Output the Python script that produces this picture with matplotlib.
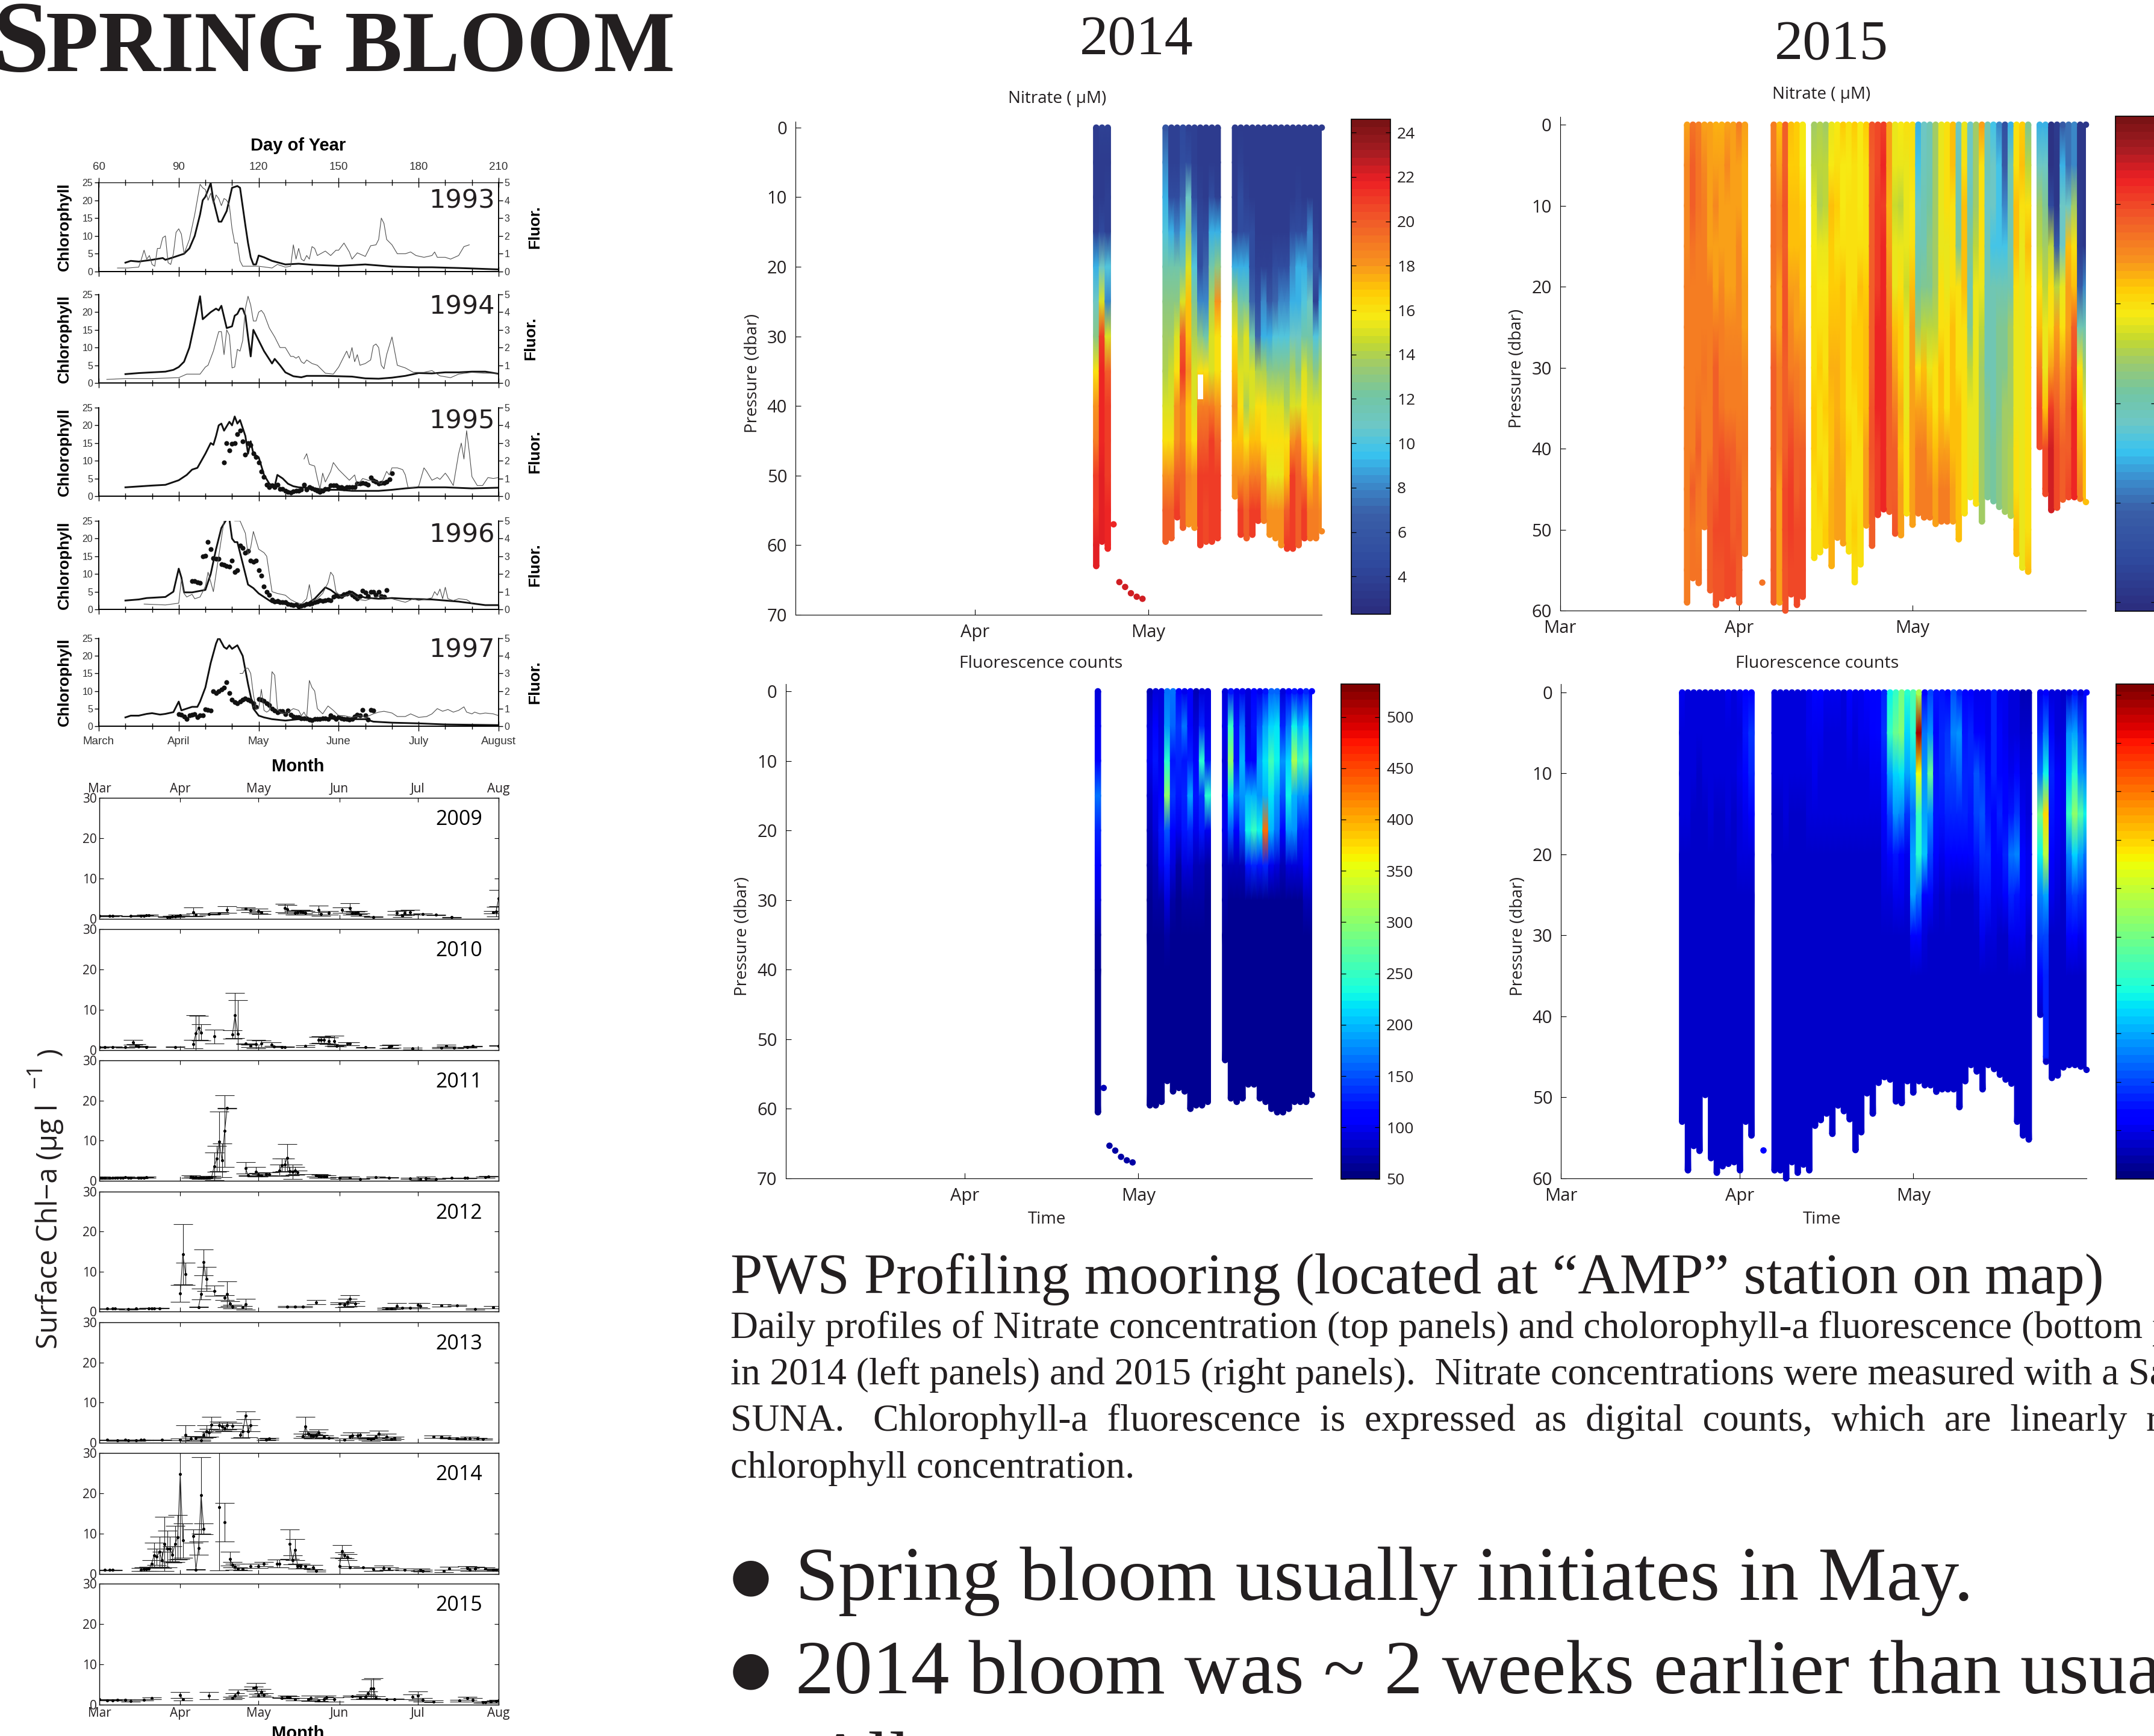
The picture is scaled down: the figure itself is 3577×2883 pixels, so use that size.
import numpy as np
import matplotlib
matplotlib.use('Agg')
import matplotlib.pyplot as plt
from matplotlib.colors import LinearSegmentedColormap, Normalize
from matplotlib.cm import ScalarMappable

W, H = 3577, 2883

# ---- historic panels: (day of year, value)
y93_chl = [(70,2.5),(72,3),(75,2.8),(80,3.3),(84,3.8),(85,3.3),(88,4),(92,5),(94,6.5),(96,10),(98,16),(99,20),(100,21),(102,24.8),(103,20),(105,14),(106,14),(108,17),(110,23.5),(112,24),(113,23.5),(115,13),(116,8),(117,4),(118,2),(119,2),(120,4.5),(122,4),(125,3),(130,2),(135,2.2),(140,1.9),(150,1.6),(160,2),(170,1.4),(180,1.2),(185,1.2),(195,1),(210,0.6)]
y93_flu = [(67,.2),(71,.2),(75,.25),(76,.7),(77,1.2),(78,.7),(79,.9),(80,.4),(81,.3),(82,1.3),(83,1.3),(84,1.9),(85,2),(86,.5),(87,.4),(88,1),(89,2.2),(90,2.4),(91,2.1),(92,1),(94,1.8),(96,3.2),(98,4.9),(99,4.7),(100,4.6),(101,4),(102,4.4),(103,3.8),(104,4.3),(105,4.1),(106,3.7),(107,4.1),(108,4),(109,3.7),(110,2.4),(111,1.6),(112,1.6),(113,.6),(114,.3),(116,.3),(120,.3),(125,.2),(127,.4),(130,.25),(132,.3),(133,1.5),(134,.7),(135,1.3),(136,.7),(137,.6),(138,.9),(139,.7),(140,1.4),(141,1.3),(142,.9),(145,1.15),(147,.9),(149,1.2),(150,1.2),(152,1.6),(154,1.1),(155,.7),(157,1.05),(160,.85),(162,1.45),(164,1.5),(165,1.8),(166,3),(167,2.7),(168,1.8),(170,1.5),(172,1),(175,1),(177,1.1),(179,.9),(182,.8),(185,.9),(186,1.1),(187,.8),(190,.8),(192,.7),(195,.9),(197,1.4),(199,1.5)]
y94_chl = [(70,2.5),(75,2.8),(85,3.2),(88,3.7),(90,4.5),(92,6),(94,10),(96,17),(98,24.5),(99,18),(102,20),(104,21),(105,20.5),(106,21.8),(108,15.5),(110,16),(111,19),(112,19.5),(113,21),(114,21),(115,19),(116,13),(117,7.5),(118,15),(120,12),(122,9),(125,5.5),(126,6.8),(128,5),(130,3),(133,1.9),(136,1.6),(138,2),(145,2),(150,1.9),(155,1.8),(160,1.3),(165,1.2),(170,1.5),(175,2),(180,2.8),(185,2.7),(190,3),(195,3),(200,3.2),(205,3.2),(210,2.6)]
y94_flu = [(63,.2),(70,.25),(80,.25),(90,.3),(93,.5),(95,.5),(98,.5),(100,.9),(101,1),(103,1.8),(105,2.9),(106,2.9),(107,1.6),(108,3),(109,2.7),(110,.85),(111,.9),(112,1.9),(113,1.8),(114,2.4),(115,4.2),(116,4.9),(117,4.4),(118,3.5),(119,3.5),(120,4),(121,4.1),(122,3.9),(124,3.1),(126,2.6),(128,2),(130,2),(132,1.5),(133,1.5),(134,1.4),(135,1.5),(136,1.2),(137,1.1),(138,1.3),(140,1.1),(142,1),(145,.55),(148,.5),(150,.9),(152,1.5),(153,1.8),(154,1.4),(155,2),(156,1.2),(157,1.6),(158,1),(160,1.1),(162,1.3),(163,2.1),(164,2.2),(165,2),(166,1),(167,.8),(168,1.6),(170,2.6),(171,1.8),(172,1),(175,.85),(178,.6),(182,.6),(185,.7),(188,.4),(192,.3),(195,.5),(200,.6),(205,.55),(210,.55)]
y95_chl = [(70,2.5),(80,3),(85,3.2),(90,4.5),(93,6),(95,7.5),(97,8),(100,12),(102,15),(103,14.5),(104,17),(105,20),(106,20.5),(107,18.5),(109,21),(110,20),(111,22.5),(112,20.5),(113,21.5),(115,17),(116,12),(117,15.5),(118,12),(120,11),(122,6),(124,3.5),(126,2.8),(127,6),(129,5),(131,3.5),(133,2.8),(135,2.5),(140,2.3),(145,1.8),(150,1.8),(155,1.5),(160,1.5),(165,1.5),(170,1.8),(175,2.2),(180,2.5),(190,2.5),(200,2.2),(210,2.4)]
y95_flu = [(137,2.1),(138,2.4),(139,1.8),(141,1.7),(142,1),(143,.4),(144,1.3),(145,.8),(147,1.4),(148,1.9),(150,1.5),(152,1.2),(154,.9),(156,1.2),(157,.6),(159,1),(161,.9),(164,.85),(166,.7),(168,1.4),(169,1.2),(170,1.6),(172,1.6),(174,1.5),(175,1.2),(176,.5),(178,.5),(180,.55),(182,1.6),(183,1.4),(185,.9),(187,1.05),(188,.95),(190,1.3),(191,1.1),(193,.6),(195,2.4),(196,3),(197,2.1),(198,3.7),(199,2.5),(200,1.1),(202,.6),(204,.6),(206,1.05),(208,1),(210,1.05)]
y95_dot = [(107,9.5),(108,15),(109,13),(110,14.8),(111,15),(112,17.5),(113,18.5),(114,15.5),(115,11.8),(116,15),(117,14.5),(118,12),(119,11),(120,9.5),(121,7),(122,5.5),(123,3.2),(124,2.5),(125,3),(126,2.5),(127,3.2),(128,2),(129,2),(130,1.5),(131,1.2),(132,1),(133,1.3),(134,1.5),(135,1.6),(136,1.8),(137,3.3),(138,1.8),(139,2.5),(140,2.2),(141,1.8),(142,1.5),(143,1.2),(144,1.5),(145,2),(146,2),(147,3),(148,3),(149,3),(150,2.5),(151,2.5),(152,2.2),(153,2.5),(154,2.5),(155,2.5),(156,2.5),(157,3.5),(158,3.5),(159,3.7),(160,3.5),(161,3.3),(162,5.3),(163,4.5),(164,4),(165,3.5),(166,3.7),(167,3.7),(168,4),(169,4.8),(170,6.5)]
y96_chl = [(70,2.5),(75,2.8),(78,3.2),(85,3.5),(88,5),(90,11.5),(91,9),(92,4.8),(95,4.8),(100,5.5),(102,10),(104,17),(106,23),(108,25.5),(109,25.5),(110,20),(111,19),(112,19),(113,16),(115,10),(116,7),(118,6),(120,4.5),(123,3),(125,2),(130,1.5),(135,0.9),(138,1.5),(141,3),(145,6.2),(147,5.5),(150,3.8),(155,5),(157,4),(160,3.3),(165,3),(170,3.2),(175,3),(185,2.8),(195,2.2),(205,1.2),(210,1.2)]
y96_flu = [(77,.3),(85,.25),(90,.35),(91,1.7),(92,.9),(93,.7),(95,.85),(96,.6),(98,.7),(100,1.3),(101,2.1),(103,1),(105,3),(107,5),(109,5.4),(111,5),(113,5),(115,4.3),(116,3.1),(117,3.5),(118,4.4),(120,3.4),(122,3.2),(123,3),(125,1),(127,.9),(130,.8),(132,.55),(134,.4),(136,.3),(138,.6),(139,1.4),(140,.5),(142,.6),(144,.9),(146,1.5),(147,2.1),(148,1.9),(149,1),(151,.7),(153,.8),(155,.9),(158,.55),(160,.5),(162,.6),(165,.75),(170,.6),(175,.4),(178,.6),(180,.5),(185,.65),(186,1),(187,.8),(188,1.15),(189,.6),(190,1.25),(191,.6),(193,.5),(195,.6),(198,.55),(200,.35)]
y96_dot = [(95,8),(96,8),(97,7.7),(98,7.5),(99,15),(100,15.2),(101,19),(102,17),(103,14.5),(104,14.3),(105,14.3),(106,12.7),(107,12.5),(108,12.3),(109,12),(110,13.7),(111,10.5),(112,11),(113,18),(114,17.3),(115,16),(116,16.5),(117,13.7),(118,13.5),(119,13.7),(120,11),(121,9.5),(122,6.5),(123,5),(124,4),(125,2.8),(126,2.2),(127,2.3),(128,2),(129,2),(130,2),(131,1.5),(132,1.3),(133,1.2),(134,1.3),(135,.8),(136,1),(137,1.2),(138,1.5),(139,1.6),(140,1.7),(141,2),(142,2.2),(143,2.5),(144,2.3),(145,2.5),(146,2.7),(147,2.6),(148,3.5),(149,3.9),(150,3.8),(151,3.7),(152,4.2),(153,4.5),(154,4.8),(155,4),(156,3.5),(157,3),(158,3.7),(159,5.3),(160,4.7),(161,3.7),(162,5),(163,5),(164,4),(165,5),(166,3.7),(167,3.5),(168,5.5)]
y97_chl = [(70,2.5),(72,3),(75,3),(78,3.5),(80,3.7),(83,3.3),(85,3.5),(88,4),(90,7),(91,4.5),(93,5),(95,5.5),(97,5.5),(98,7),(100,11),(102,18),(104,23.5),(105,25.3),(107,22.5),(108,22),(109,23),(110,22),(112,23),(114,20),(116,12),(118,5),(120,3),(122,2.5),(125,2),(130,1.6),(135,2),(140,2),(150,2.2),(155,2),(160,2),(163,1.3),(170,1),(180,.8),(190,.5),(200,.4),(210,.3)]
y97_flu = [(113,3),(114,3),(115,3.3),(116,3.3),(117,3),(118,1.8),(119,1),(120,1),(121,2.1),(122,.9),(123,.8),(124,.9),(125,3.1),(126,2.9),(127,1),(128,.8),(130,.7),(132,.9),(133,1),(135,.9),(136,.6),(137,.8),(138,.5),(139,2.6),(140,2.2),(141,2),(142,1),(144,.7),(146,1.15),(148,.9),(150,.6),(152,.6),(155,.5),(158,.6),(160,.5),(163,.7),(165,.8),(167,.85),(170,.75),(172,.55),(175,.55),(177,.7),(180,.5),(183,.55),(185,.7),(187,1),(189,.85),(191,.95),(193,.8),(195,.9),(197,1.1),(198,.8),(200,.7),(201,.8),(203,.7),(205,.75),(208,.7),(210,.6)]
y97_dot = [(90,3.5),(91,3.3),(92,2.8),(93,2),(94,3),(95,3.3),(96,3.5),(97,2.5),(98,3),(99,3),(100,4.8),(101,4.7),(102,4.5),(103,10),(104,9.5),(105,10),(106,10.5),(107,11),(108,12.5),(109,9.5),(110,7.5),(111,6.8),(112,6.5),(113,7),(114,7.5),(115,7.8),(116,7.5),(117,7.2),(118,6.5),(119,5.5),(120,7.7),(121,7.5),(122,7.2),(123,6.5),(124,6),(125,5),(126,4.5),(127,4),(128,4.2),(129,4.3),(130,3.5),(131,4.5),(132,3.2),(133,2.7),(134,2.5),(135,2.5),(136,2.2),(137,2.3),(138,2.2),(139,1.8),(140,1.7),(141,2),(142,2),(143,2),(144,2.3),(145,2.2),(146,2),(147,3),(148,2.5),(149,2),(150,2.5),(151,2.3),(152,2),(153,2),(154,1.8),(155,2),(156,2.7),(157,3.2),(158,3),(159,4.7),(160,3),(161,1.8),(162,4.6),(163,4.5)]
old_years = ['1993', '1994', '1995', '1996', '1997']
doy_ticks = [60, 90, 120, 150, 180, 210]
long_months = ['March', 'April', 'May', 'June', 'July', 'August']

# ---- surface chl panels: (days since 1 March, mean, error)
s09 = [(0,.8,.1),(4,.7,.1),(5,.8,.1),(12,.7,.1),(16,.8,.1),(17,.8,.1),(18,.9,.1),(19,.9,.1),(26,.5,.1),(27,.5,.1),(28,.6,.2),(29,.6,.2),(30,.8,.2),(31,.9,.2),(36,1.7,1.1),(37,1,.3),(42,1.2,.2),(46,1.4,.2),(49,2.3,.8),(56,2.6,.3),(58,2.1,.4),(61,1.9,.6),(62,1.6,.4),(71,2.7,1.1),(72,2.4,1),(75,1.5,.4),(76,1.6,.5),(77,1.8,.4),(78,1.7,.4),(79,1.5,.4),(84,2.2,1.1),(85,1.2,.4),(88,1.5,.5),(93,2.2,.7),(96,2.7,1.2),(97,1.5,.4),(98,1.5,.3),(99,1.6,.4),(100,1,.3),(105,.5,.1),(114,1.5,.4),(116,.8,.3),(117,1.5,.6),(119,1.7,.5),(124,1.2,.1),(129,1,.1),(135,.4,.1),(151,1.7,.3),(152,1.8,1.2),(153,5.1,2)]
s10 = [(0,.7,.1),(2,.8,.1),(5,.8,.1),(10,.7,.1),(13,1.9,.6),(14,1.1,.4),(15,.9,.1),(18,.8,.1),(29,.8,.1),(36,1.5,1),(37,4.2,4.5),(38,5.5,3),(39,4.4,2),(44,3.4,1.7),(51,3.9,1),(52,8.6,5.6),(53,4.1,8.3),(56,1.6,.1),(58,1.1,.3),(60,1.5,1),(62,1.6,.8),(66,1.3,.6),(67,.9,.2),(70,.8,.1),(71,.8,.1),(79,1,.2),(84,2.5,.8),(85,2.6,.8),(86,2.5,.8),(88,2.3,.8),(90,2.3,1.3),(91,1.1,.2),(95,1.6,.4),(96,1.6,.4),(102,.7,.1),(111,.8,.4),(112,1,.4),(120,.4,.2),(131,.6,.2),(133,1.1,.2),(136,.6,.1),(141,.7,.1),(143,1,.1),(153,1.1,.1)]
s11 = [(0,.7,.3),(1,.7,.2),(2,.7,.1),(4,.8,.1),(5,.8,.1),(6,.8,.1),(7,.8,.1),(8,.8,.1),(9,.8,.1),(10,.9,.1),(11,.8,.1),(12,.8,.1),(15,.7,.1),(16,.8,.1),(17,.8,.1),(18,.9,.1),(35,1.1,.3),(36,.9,.2),(37,.9,.2),(38,.8,.2),(39,.8,.3),(40,.8,.2),(41,.8,.2),(42,.9,.3),(43,.9,.3),(44,3.6,3.4),(45,5.5,3.2),(46,9.8,7.4),(47,5.1,4.2),(48,12.4,8.9),(49,18.1,.1),(56,3.2,1.4),(57,1.3,.1),(60,2.3,1.1),(61,1.5,.5),(62,1.4,.2),(64,1.7,.4),(65,1.7,.4),(69,2.6,1.4),(70,3.9,1.7),(71,4,1.6),(72,5.7,3.4),(73,2.4,1.1),(74,2.2,1.8),(75,2.5,1),(76,2.1,.4),(83,1.3,.3),(84,1.2,.4),(85,1.1,.4),(86,1.1,.3),(87,1.1,.3),(92,.7,.2),(96,.8,.2),(100,.5,.1),(106,.9,.2),(111,.8,.1),(119,.6,.2),(123,.5,.3),(125,.6,.4),(129,.5,.1),(135,.7,.1),(140,.7,.1),(141,.7,.1),(148,.9,.2),(149,1.1,.1)]
s12 = [(3,.7,.1),(5,.7,.1),(6,.7,.1),(11,.6,.1),(14,.7,.1),(19,.8,.1),(20,.8,.1),(21,.8,.1),(23,.8,.1),(31,4.5,2.1),(32,14.3,7.5),(33,9.4,2.8),(38,1.1,.1),(39,4.4,1.4),(40,12.3,3.2),(41,8.2,3),(44,5.2,1.3),(48,3.5,.6),(49,4.3,3.2),(50,2,.6),(51,1.2,.4),(55,1,.3),(56,1.8,1.3),(72,1.2,.2),(75,1.2,.2),(78,1.2,.2),(83,2.3,.5),(92,2,.2),(94,1.7,.6),(95,2.2,1),(96,3.1,1),(98,2,.6),(110,.7,.2),(112,.8,.2),(114,1.4,.7),(116,.9,.1),(119,.9,.1),(122,1.6,.5),(123,1.4,.7),(131,1.5,.3),(137,1.5,.2),(144,.6,.1),(151,1,.3)]
s13 = [(3,.7,.1),(7,.6,.1),(10,.7,.1),(11,.6,.1),(14,.6,.1),(16,.7,.1),(17,.7,.1),(24,.7,.1),(31,.8,.2),(33,1.9,2.5),(35,1,.5),(37,1.2,.5),(39,.6,.1),(40,2,.8),(41,2.8,1.5),(42,2.5,1),(43,4.5,2),(46,4.3,1),(47,4,1),(48,3.6,.8),(49,4.3,1),(51,4.2,.8),(54,2,.8),(55,2.9,1.5),(56,6.8,1),(57,2.9,1.5),(58,4.3,1.5),(64,.8,.2),(65,1,.2),(78,1.7,.5),(79,4.1,2.4),(80,2.2,.6),(81,1.8,.5),(82,1.6,.5),(83,1.8,.8),(84,2.6,.7),(86,1.5,.3),(88,1.2,.2),(94,.8,.2),(96,1.5,.5),(97,1.8,.8),(99,1.8,.7),(100,1.9,.6),(103,1,.2),(104,.9,.4),(105,1.1,.3),(106,1.5,.4),(107,2.2,.8),(110,1.5,.7),(112,.9,.3),(113,1.2,.3),(128,1.5,.3),(131,1.5,.3),(134,1.2,.2),(137,1,.1),(140,1,.2),(142,1.1,.4),(145,1,.2),(147,.9,.2)]
s14 = [(2,1,.1),(4,1,.1),(5,1,.1),(16,1.1,.4),(17,1.2,.4),(18,1.2,.5),(19,1.3,.5),(20,2.5,1),(21,4.7,3),(22,4.3,2),(23,5.5,3.7),(24,3.5,2),(25,7.5,6.7),(26,6.2,4.5),(27,6.2,3),(28,4.8,2),(29,7.5,4.5),(30,9.1,5.5),(31,24.8,21),(32,8.3,4.3),(36,9.4,1.6),(37,1.1,.1),(38,6.4,1.6),(39,19.5,9.5),(40,11.2,1.4),(46,16.6,15.7),(48,12.8,4.8),(50,3.8,1.7),(51,2.3,.7),(52,1.8,.8),(53,1.4,.3),(55,1.2,.3),(58,2,.5),(61,2,.5),(63,2.5,.5),(68,2.6,1),(69,2.6,1),(73,7.4,3.7),(74,3.5,1.1),(75,6,2.6),(76,2,.6),(77,2,.6),(79,1.9,.4),(82,1.7,.5),(83,.8,.2),(92,2,2),(93,5.6,1.5),(94,4.6,.7),(95,4.2,.8),(96,1.7,.2),(101,1.6,.1),(105,1.2,.4),(109,1.5,.6),(111,1.4,.3),(117,1.1,.2),(123,1,.3),(124,.8,.2),(132,.8,.3),(134,1.4,.4),(141,1.5,.5),(142,1.1,.4),(144,1.3,.5),(148,1.3,.3),(151,1,.2),(152,1.1,.2)]
s15 = [(0,1.3,.1),(3,1.1,.1),(5,1.1,.1),(7,1.2,.1),(10,1.2,.1),(12,.9,.1),(17,1.2,.2),(20,1.6,.2),(31,2.4,.8),(32,1.3,.3),(42,2.2,.9),(51,1.7,.3),(52,2.3,.6),(53,3,.8),(59,4.2,.3),(60,4.4,1),(61,2.3,.4),(62,3.1,.8),(63,2.4,.4),(70,1.7,.1),(72,2,.3),(73,1.8,.3),(75,1.4,.3),(80,1.4,.3),(81,1.6,.7),(84,1.1,.2),(86,1.4,.6),(87,1.8,.5),(90,1.3,.5),(97,2.1,.1),(100,1.7,.4),(102,2,.5),(103,2.8,.5),(104,4,2.3),(105,4,2.6),(106,1.7,.4),(110,1.4,.1),(113,1.4,.1),(120,2,.6),(122,2.2,1.1),(124,1.2,.4),(128,.8,.2),(138,1,.2),(141,1.6,.4),(143,1.2,.5),(147,.6,.2),(148,.6,.2),(150,.7,.2),(152,.9,.2),(153,1,.2)]
new_years = ['2009', '2010', '2011', '2012', '2013', '2014', '2015']
month_ticks = [0, 31, 61, 92, 122, 153]
short_months = ['Mar', 'Apr', 'May', 'Jun', 'Jul', 'Aug']

# ---- mooring profiles, values every 5 dbar from the surface
n14_days = [52,53,54,64,65,66,67,68,69,70,71,72,73,76,77,78,79,80,81,82,83,84,85,86,87,88,89,90,91]
n14_ends = [63,59.5,60.5,59.5,59,56,57.5,57,57.5,60,59.5,59.5,59,53,58.5,59,58.5,56.5,56.5,58.5,59,60,60.5,60.5,60,59,59,59,58]
n14_vals = [
 [3.5,3.5,3.5,4,9,11,13,16,18,19,21,21,22],[4,3.5,3.5,4.5,11,15,21,21.5,21.5,21.5,22,22],
 [4,3.5,4,4,10,8,15,20,21,21,21,21.5,21.5],[6,8,9,10,12,13,13.5,14,15,16,18,20],
 [4,4,5,9,12,13,13.5,14.5,15,16,18,20],[4,4,5,8,12,13,15,16,18,18,20,21],
 [4.5,5,7,9,12,15,20,21,19,19,20,20],[4,5,11,13,15,17,17,18,17,17,18.5,18],
 [4,4,5,8,10,12.5,14,15,15,16,18,18],[3.5,3.5,4,5,5,8,13,16,19,20,21,21,21.5],
 [3.5,3.5,3.5,5,7,8,12,16,19,20,21,20.5],[3.5,3.5,5,9,12,14,15,15,19,21,21,21],
 [3.5,3.5,4,9,13,18,16,16,18,20,21,21],[3.5,3.5,3.5,4,9,14,16,17,18,17,18],
 [3.5,4,5,5,9,12,14,15,16,17,18,21],[3.5,3.5,4,5,9,12,15,15,14,16,18,20],
 [3.5,3.5,3.5,5,5,7,12,15,15,17,19,21],[3.5,3.5,3.5,3.5,4,5,7,14,16,17,19,21],
 [3.5,3.5,3.5,3.5,4,8,9,14,16,16,18,19],[3.5,3.5,3.5,3.5,4,6,9,13,15,16,15.5,18],
 [3.5,3.5,3.5,3.5,5,7,10,13,15,16,15.5,18],[3.5,3.5,3.5,3.5,5,8,10,13,15,16,15.5,18,20],
 [3.5,3.5,3.5,3.5,5,8,10,13,14,16,17,20,21],[3.5,3.5,3.5,5,8,9,11,14,15,18,21,21,21],
 [3.5,3.5,4,5,9,9,11,13,15,19,20,20,21],[3.5,3.5,3.5,5,9,10,12,15,16,17,19,21],
 [3.5,3.5,3.5,8,8,11,12,14,15,16,17,19],[3.5,3.5,3.5,4,6,4,10,13,15,15,18,19],
 [3.5,3.5,3.5,3.5,4,9,11,14,15,16,17,18.5]]
n14_lone_day = [55, 56, 57, 58, 59, 60]
n14_lone_dep = [57, 65.3, 66, 66.9, 67.4, 67.7]
n14_lone_val = [21.5, 22.5, 22.5, 22.5, 22.5, 22.5]
n14_hole = (70, 35.5, 39)

f14_days = [54,63,64,65,66,67,68,69,70,71,72,73,76,77,78,79,80,81,82,83,84,85,86,87,88,89,90,91]
f14_ends = [60.5,59.5,59.5,59,56,57.5,57,57.5,60,59.5,59.5,59,53,58.5,59,58.5,56.5,56.5,58.5,59,60,60.5,60.5,60,59,59,59,58]
f14_vals = [
 [90,100,110,170,130,110,90,70],[80,90,100,85,75,70,65],[90,110,120,100,90,75,70],
 [90,90,100,110,120,100,70],[170,180,240,300,150,120,90,70],[170,160,120,140,110,90,70],
 [110,140,130,120,100,70],[100,170,120,130,120,90,70],[110,110,130,190,130,90,70],
 [80,90,110,120,100,80,70],[90,130,240,140,120,80,70],[90,100,120,240,100,70],
 [90,100,90,100,100,80,70],[120,250,300,220,150,80],[100,120,120,170,110,80],
 [100,170,200,180,150,80],[90,90,110,200,230,120],[110,120,110,200,250,130],
 [100,150,190,180,230,120],[120,190,220,200,430,130],[160,210,260,220,200,100],
 [160,220,230,190,170,90],[90,130,180,150,110,80],[110,170,210,230,180,90],
 [120,230,320,200,180,90],[110,200,260,180,130,90],[130,220,280,180,130,110,80],
 [110,160,200,130,110,100,80]]
f14_deep = 62
f14_lone_val = [75, 66, 66, 66, 66, 66]

n15_days = [22,23,24,25,26,27,28,29,30,31,32,37,38,39,40,41,42,44,45,46,47,48,49,50,51,52,53,54,55,56,57,58,59,60,61,62,63,64,65,66,67,68,69,70,71,72,73,74,75,76,77,78,79,80,81,83,84,85,86,87,88,89,90,91]
n15_ends = [59,56,56.6,49.7,57.5,59.3,58.5,58.2,58,59,53,59,59,60,58,59.3,58.3,53.5,52.8,52,54.5,51,51.7,52.7,56.5,54.3,49.5,52,48.2,47.5,47.8,50.5,50.7,48,49.4,48,48.5,48.5,49.3,49,49,49,51.2,48,46,46.8,49,46,46.5,47.2,47.8,48.3,53,54.7,55.2,39.8,45.6,47.6,47.3,46.3,46,46,46.2,46.6]
n15_vals = [
 [22,22.5,22.5,22.5,23,23,23,23,23,23,23,23],[23.5,24,24,23.5,23,23,23,23,23,24,23.5,23.5],
 [23,23.5,23.5,23,23,23,23,23.5,24,23.5,23,23.5],[22,22.5,23,23,23,23,23.5,23,23,23],
 [22,22,22,22,23,23,23,23,23,24,24,24],[21.5,22,22.5,22,22,23,24,24,24,24,25,24.5],
 [21.5,22,22,22,22.5,23,23,23.5,24.5,25,25,24.5],[22,22.5,22,22,22,22.5,23,23,24,25,25,25],
 [22,22,22,22,22,22.5,23,23,24,24,24,25],[23,22,22,22.5,22.5,22.5,23,23,23.5,24,24.5,24],
 [22,21.5,21.5,21.5,22,22,22.5,23,23.5,23,23],[23,23,23.5,23.5,23,23,24,24,24,24,24,24],
 [21,22,23,23,22,22,23,23,23,22,22,22],[24,24,24.5,24,24.5,24.5,24,24,24,25,25,24.5],
 [21,20.5,21,21,22,22.5,23,24,25,25.5,25.5,25],[20.5,20.5,21,21,22,22,23,23.5,24,24,25,25],
 [19.5,19.5,20.5,21,21,22,22.5,23,24,24.5,25,25],[17,18,19,19.5,20,20,20,20.5,20.5,20,20],
 [17.5,18,17.5,19,19.5,20,20.5,20,20,20.5,20],[17,18,18,19,19.5,20,20,20.5,20,20,20.5],
 [19,19.5,21,20.5,20.5,21,21.5,21,21,21.5,21.5],[19.5,20,20.5,20,20.5,21,21.5,21.5,22,22,22],
 [20.5,19.5,19.5,20,21,21,21,21,21.5,22,22],[20,19.5,20,20,20,20,20,20,20.5,20,20],
 [20.5,20,20,20,20,20.5,20.5,20,20,20,20.5,20],[19.5,19.5,19.5,20,21,20.5,20.5,20.5,20,20,20],
 [20.5,20,20,20,20.5,21,21,21,22,22],[24.5,24,24,24,24,24,24,24.5,24.5,24,24],
 [25,25,25.5,25.5,25.5,26,26,26,25.5,25.5],[25.5,26,25.5,26,26,26,26,26,26,26],
 [22,22,21.5,22,22.5,23.5,24,24,24,24],[19,19,18.5,19,19,21,22,23,24,24,24.5],
 [19.5,19,18,19,20,20.5,20.5,21.5,21,22,22],[20,19,19,19,18.5,19,19,19,20,20],
 [20,20,19.5,20,21,22,22,22,22,22],[12,13,14,15,15.5,17,20,22,23,23],
 [14,14.5,15,15,16,18,21,22,23,23],[15,15,15.5,16.5,16,18,19,21,22,23],
 [17,17,17,17,17,18,20,20,21,22],[19,19,19,19,20,20,21,21,22,23],
 [20,20,20,19,19,20,20,20,22,23],[21,21,20,20,20,21,21,21,21,22],
 [14,15,15,16,20,20,20,21,21,21,21],[19,20,21,21,21,20,20,20,20,20],
 [14,14,15,16,15,16,18,19,19,19],[17,17,17,18,19,19,19,19,19,20],
 [22,20,20,20,19,18,17,17,17,17],[15,15,14,15,15,15,15,16,16,16],
 [13,14,14,13,15,15,15,15,15.5,15.5],[11,13,13,13,15,16,16,16,16.5,16.5],
 [8,9,11,13,15,16,16,17,17,17],[12,15,15,15,15,17,17,17,17.5,17.5],
 [20,20,21,21,20,19,19,19,20,20,21],[20.5,21,20,19,19,19,19,19,19,19,19],
 [16,18,20,21,20,20,20,20,20,20,20,21],[12,14,17,18,20,21,23,25,25],
 [12,14,16,17,18,19,19,21,25,25],[5,5,7,18,20,20,22,25.5,27,27],
 [6,5.5,5.5,9,18,22,23,24,25,25],[9,12,14,14,19,20,22,23,24,24],
 [10,10,14,21,22,22,23,24,24,25],[11,11,17,20,21,24,25,26,26,26],
 [5.5,5.5,6,6,9,15,20,21,22,23],[5.5,5.5,5.5,5.5,11,15,17,19,21,21]]
n15_lone = (35, 56.5, 23.5)

f15_days = [21,22,23,24,25,26,27,28,29,30,31,32,33,37,38,39,40,41,42,43,44,45,46,47,48,49,50,51,52,53,54,55,56,57,58,59,60,61,62,63,64,65,66,67,68,69,70,71,72,73,74,75,76,77,78,79,80,81,83,84,85,86,87,88,89,90,91]
f15_ends = [53,59,56,56.6,49.7,57.5,59.3,58.5,58.2,58,59,53,54.7,59,59,60,58,59.3,58.3,59,53.5,52.8,52,54.5,51,51.7,52.7,56.5,54.3,49.5,52,48.2,47.5,47.8,50.5,50.7,48,49.4,48,48.5,48.5,49.3,49,49,49,51.2,48,46,46.8,49,46,46.5,47.2,47.8,48.3,53,54.7,55.2,39.8,45.6,47.6,47.3,46.3,46,46,46.2,46.6]
f15_vals = [
 [100,90,85,80],[95,90,85,80],[90,85,80,75],[85,80,75,70],[90,85,80,75],[95,90,85,80],[90,85,80,75],
 [95,85,80,75],[105,90,85,80],[95,85,80,75],[110,95,100,90,85],[120,150,140,110,90],[120,180,170,120,90],
 [95,85,80,75],[90,85,80,75],[95,90,85,80],[90,85,80,75],[95,85,80,75],[90,85,80,75],[110,100,90,85],
 [130,110,100,90],[120,105,95,85],[100,90,85,80],[110,95,90,85],[100,95,90,80],[95,90,85,80],[120,100,90,80],
 [100,90,85,80],[110,100,90,85],[120,100,90,80],[130,120,100,85],[130,130,110,90],
 [170,180,150,130,100,90],[380,420,300,200,130,90],[430,480,350,280,150,100],[500,520,360,270,120,100],
 [400,350,300,180,110,90],[450,400,330,240,290,300,120],[560,980,640,420,400,250,120],
 [140,250,280,300,330,120,90],[200,280,480,280,200,130],[150,130,150,150,130,90],[150,170,170,150,110],
 [140,180,200,170,120,90],[220,260,200,170,120],[160,280,230,160,120],[130,150,160,160,120],
 [120,160,160,150,130],[110,120,220,200,150,90],[110,120,190,210,180,150,110],[110,110,130,150,180,150,90],
 [170,170,160,140,120,100,90],[110,130,140,160,130,110],[100,110,120,130,160,120],
 [80,90,110,150,240,160,110],[80,90,130,180,270,150,100],[60,70,80,100,130,130,110],[60,70,80,90,100,100],
 [100,170,240,500,380,260,200,140,130],[120,250,380,700,580,300,200,170,170,170],[90,130,170,150,120,100],
 [80,90,120,120,100,90],[70,90,100,100,90],[90,280,330,420,270,180,120],[150,300,400,530,350,200,120],
 [90,220,280,450,300,180,110],[140,170,270,380,250,170,120]]
f15_deep = 72
f15_lone = (35, 56.5, 120)

# colour scales
n_nodes = [(0,'#2b2e7f'),(.1,'#2f4a9e'),(.2,'#3a5fa8'),(.27,'#3b93d2'),(.32,'#38c3f0'),(.38,'#6dc7c6'),(.44,'#72c6a4'),(.5,'#9bca6f'),(.55,'#c5d92e'),(.6,'#f6eb14'),(.655,'#ffcb05'),(.71,'#f7941d'),(.8,'#f15a29'),(.88,'#ed2024'),(.94,'#a61c22'),(1,'#7a1315')]
n_cmap = LinearSegmentedColormap.from_list('nit', n_nodes, N=64)
f_cmap = plt.get_cmap('jet', 64)

fig = plt.figure(figsize=(W / 100, H / 100), dpi=100, facecolor='white')
SERIF = 'Liberation Serif'
ARIAL = 'Liberation Sans'
MYRIAD = 'Open Sans'
INK = '#231f20'


def T(x, y, s, **kw):
    kw.setdefault('color', INK)
    kw.setdefault('ha', 'center')
    kw.setdefault('va', 'center')
    return fig.text(x / W, 1 - y / H, s, **kw)


def box(l, t, r, b):
    return fig.add_axes([l / W, 1 - b / H, (r - l) / W, (b - t) / H])


def unzip(rows):
    return [np.array(c) for c in zip(*rows)]


# ---- historic panels
old_boxes = [(303, 451), (489, 636), (677, 824), (865, 1012), (1060, 1206)]
old_chl = [y93_chl, y94_chl, y95_chl, y96_chl, y97_chl]
old_flu = [y93_flu, y94_flu, y95_flu, y96_flu, y97_flu]
old_dot = [None, None, y95_dot, y96_dot, y97_dot]
year_mid = [333, 510, 699, 889, 1080]
fluor_x = [888, 881, 888, 888, 888]
for i, (t, b) in enumerate(old_boxes):
    ax = box(164, t, 828, b)
    ax2 = ax.twinx()
    ax.set_xlim(60, 210)
    ax.set_ylim(0, 25)
    ax2.set_ylim(0, 5)
    d, v = unzip(old_flu[i])
    ax2.plot(d, v, color='#4d4d4d', lw=0.8)
    d, v = unzip(old_chl[i])
    ax.plot(d, v, color='#111111', lw=2.1)
    if old_dot[i] is not None:
        d, v = unzip(old_dot[i])
        ax.scatter(d, v, s=34, color='#111111', zorder=5, linewidths=0)
    for a in (ax, ax2):
        a.spines['top'].set_visible(i == 0)
        a.spines['left'].set_linewidth(1.1)
        a.spines['right'].set_linewidth(1.1)
        a.spines['bottom'].set_linewidth(1.3)
    ax.set_yticks(range(0, 26, 5))
    ax2.set_yticks(range(0, 6))
    ax.set_xticks(doy_ticks)
    ax.set_xticks(range(60, 211, 10), minor=True)
    ax.tick_params(axis='y', labelsize=11.5, length=5, width=1, pad=2, labelfontfamily=ARIAL, labelcolor='#333333')
    ax2.tick_params(axis='y', labelsize=11.5, length=5, width=1, pad=2, labelfontfamily=ARIAL, labelcolor='#333333')
    ax.tick_params(axis='x', which='both', direction='inout', width=1, top=(i == 0), bottom=True,
                   labelsize=13.5, labelfontfamily=ARIAL, labelcolor='#333333')
    ax.tick_params(axis='x', which='major', length=11, pad=7)
    ax.tick_params(axis='x', which='minor', length=7)
    if i == 0:
        ax.tick_params(axis='x', which='major', labeltop=True, labelbottom=False)
        ax.set_xticklabels([str(k) for k in doy_ticks])
    elif i == 4:
        ax.set_xticklabels(long_months)
    else:
        ax.set_xticklabels([])
    T(822, year_mid[i], old_years[i], fontsize=31, family='DejaVu Sans', ha='right')
    T(107, (t + b) / 2, 'Chlorophyll', fontsize=19, family=ARIAL, weight='bold', rotation=90, color='black')
    T(fluor_x[i], (t + b) / 2, 'Fluor.', fontsize=19, family=ARIAL, weight='bold', rotation=90, color='black')
T(495, 242, 'Day of Year', fontsize=21, family=ARIAL, weight='bold', color='black')
T(495, 1273, 'Month', fontsize=21, family=ARIAL, weight='bold', color='black')
T(495, 2879, 'Month', fontsize=21, family=ARIAL, weight='bold', color='black')

# ---- surface chl panels
new_boxes = [(1325, 1526), (1543, 1744), (1761, 1961), (1979, 2178), (2196, 2396), (2413, 2614), (2630, 2831)]
new_data = [s09, s10, s11, s12, s13, s14, s15]
for i, (t, b) in enumerate(new_boxes):
    ax = box(165, t, 828, b)
    ax.set_xlim(0, 153)
    ax.set_ylim(0, 30)
    d, v, e = unzip(new_data[i])
    ax.errorbar(d, v, yerr=e, fmt='none', ecolor='#222222', elinewidth=0.8, capsize=11.5, capthick=0.8)
    # only consecutive days are joined
    breaks = np.where(np.diff(d) > 1.5)[0] + 1
    for dd, vv in zip(np.split(d, breaks), np.split(v, breaks)):
        ax.plot(dd, vv, color='#222222', lw=0.8)
    ax.plot(d, v, ls='none', marker='o', ms=2.6, color='black')
    ax.set_xticks(month_ticks)
    ax.set_yticks([0, 10, 20, 30])
    ax.tick_params(axis='both', direction='in', length=5, width=0.8, top=True, right=True,
                   labelsize=15, labelfontfamily=MYRIAD, labelcolor=INK, pad=3)
    if i == 0:
        ax.tick_params(axis='x', labeltop=True, labelbottom=False)
        ax.set_xticklabels(short_months)
    elif i == 6:
        ax.set_xticklabels(short_months)
    else:
        ax.set_xticklabels([])
    for s in ax.spines.values():
        s.set_linewidth(1.0)
    ax.text(0.96, 0.82, new_years[i], transform=ax.transAxes, ha='right', va='center',
            fontsize=24.5, family=MYRIAD, color='black')
T(82, 2240, 'Surface Chl\u2212a (\u00b5g l', fontsize=34, family=MYRIAD, rotation=90, va='bottom')
T(60, 1786, '\u22121', fontsize=26, family=MYRIAD, rotation=90)
T(82, 1747, ')', fontsize=34, family=MYRIAD, rotation=90)


# ---- mooring panels
def draw_column(ax, day, end, vals, deep, cmap, norm):
    zs = [k * 5 for k in range(len(vals)) if k * 5 < end]
    cs = list(vals[:len(zs)])
    if deep is not None and zs[-1] + 5 < end:
        zs.append(zs[-1] + 5)
        cs.append(deep)
    zs.append(end)
    cs.append(deep if deep is not None else cs[-1])
    xx = [[day - 0.5, day + 0.5] for z in zs]
    yy = [[z, z] for z in zs]
    cc = [[c, c] for c in cs]
    ax.pcolormesh(xx, yy, cc, cmap=cmap, norm=norm, shading='gouraud')
    ax.scatter([day, day], [0, end], c=[cs[0], cs[-1]], cmap=cmap, norm=norm, s=58,
               linewidths=0, clip_on=False, zorder=3)


def mooring_axes(l, t, r, b, ymax, top, yticks, show_mar):
    ax = box(l, t, r, b)
    ax.set_xlim(0, 91)
    ax.set_ylim(ymax, top)
    ax.spines['top'].set_visible(False)
    ax.spines['right'].set_visible(False)
    ax.set_yticks(yticks)
    if show_mar:
        ax.set_xticks([0, 31, 61])
        ax.set_xticklabels(['Mar', 'Apr', 'May'])
    else:
        ax.set_xticks([31, 61])
        ax.set_xticklabels(['Apr', 'May'])
    ax.tick_params(axis='both', direction='in', length=6.5, width=0.8, labelsize=21,
                   labelfontfamily=MYRIAD, labelcolor=INK, pad=10)
    ax.tick_params(axis='x', pad=11)
    ax.set_ylabel('Pressure (dbar)', fontsize=20, family=MYRIAD, color=INK, labelpad=7, y=0.49)
    return ax


def add_cbar(l, t, r, b, cmap, norm, ticks, labels):
    cax = box(l, t, r, b)
    cb = fig.colorbar(ScalarMappable(norm=norm, cmap=cmap), cax=cax)
    cb.set_ticks(ticks)
    cb.outline.set_linewidth(1.2)
    cax.tick_params(axis='y', direction='in', left=True, right=True, length=6, width=0.9,
                    labelsize=19, labelfontfamily=MYRIAD, labelcolor=INK, pad=8)
    if not labels:
        cax.set_yticklabels([])


norm = Normalize(2.3, 24.6)
ax = mooring_axes(1321, 201.5, 2195, 1021, 70, -0.9, range(0, 71, 10), False)
for dy, en, vl in zip(n14_days, n14_ends, n14_vals):
    draw_column(ax, dy, en, vl, None, n_cmap, norm)
ax.bar(n14_hole[0], n14_hole[2] - n14_hole[1], bottom=n14_hole[1], width=1, color='white', zorder=4)
ax.scatter(n14_lone_day, n14_lone_dep, c=n14_lone_val, cmap=n_cmap, norm=norm, s=58, linewidths=0, clip_on=False)
add_cbar(2244, 198, 2309, 1020, n_cmap, norm, range(4, 25, 2), True)

norm = Normalize(50, 532)
ax = mooring_axes(1304.5, 1136, 2178.6, 1957, 70, -1.04, range(0, 71, 10), False)
for dy, en, vl in zip(f14_days, f14_ends, f14_vals):
    draw_column(ax, dy, en, vl, f14_deep, f_cmap, norm)
ax.scatter(n14_lone_day, n14_lone_dep, c=f14_lone_val, cmap=f_cmap, norm=norm, s=58, linewidths=0, clip_on=False)
add_cbar(2227, 1136, 2291, 1957.5, f_cmap, norm, range(50, 501, 50), True)

norm = Normalize(4.56, 29.4)
ax = mooring_axes(2590.5, 193.6, 3464, 1014, 60, -1, range(0, 61, 10), True)
for dy, en, vl in zip(n15_days, n15_ends, n15_vals):
    draw_column(ax, dy, en, vl, None, n_cmap, norm)
ax.scatter([n15_lone[0]], [n15_lone[1]], c=[n15_lone[2]], cmap=n_cmap, norm=norm, s=58, linewidths=0)
add_cbar(3513, 193, 3580, 1015, n_cmap, norm, [5, 10, 15, 20, 25], False)

norm = Normalize(0, 1022)
ax = mooring_axes(2592, 1136, 3465, 1957, 60, -1.04, range(0, 61, 10), True)
for dy, en, vl in zip(f15_days, f15_ends, f15_vals):
    draw_column(ax, dy, en, vl, f15_deep, f_cmap, norm)
ax.scatter([f15_lone[0]], [f15_lone[1]], c=[f15_lone[2]], cmap=f_cmap, norm=norm, s=58, linewidths=0)
add_cbar(3514, 1136, 3580, 1957.5, f_cmap, norm, range(100, 1001, 100), False)

T(1756, 164, 'Nitrate ( \u00b5M)', fontsize=20, family=MYRIAD)
T(3025, 157, 'Nitrate ( \u00b5M)', fontsize=20, family=MYRIAD)
T(1729, 1102, 'Fluorescence counts', fontsize=20.5, family=MYRIAD)
T(3018, 1102, 'Fluorescence counts', fontsize=20.5, family=MYRIAD)
T(1738, 2025, 'Time', fontsize=20, family=MYRIAD)
T(3025, 2025, 'Time', fontsize=20, family=MYRIAD)

# ---- poster text
T(1887, 68, '2014', fontsize=68, family=SERIF)
T(3041, 76, '2015', fontsize=68, family=SERIF)
T(-12, 118, 'S', fontsize=122, family=SERIF, weight='bold', ha='left', va='baseline')
T(76, 118, 'PRING BLOOM', fontsize=103, family=SERIF, weight='bold', ha='left', va='baseline')
T(1213, 2148, 'PWS Profiling mooring (located at \u201cAMP\u201d station on map)', fontsize=69.2,
  family=SERIF, ha='left', va='baseline')
body = ['Daily profiles of Nitrate concentration (top panels) and cholorophyll-a fluorescence (bottom panels)',
        'in 2014 (left panels) and 2015 (right panels).  Nitrate concentrations were measured with a Satlantic',
        'SUNA.   Chlorophyll-a  fluorescence  is  expressed  as  digital  counts,  which  are  linearly  related  to',
        'chlorophyll concentration.']
body_y = [2222, 2299, 2376, 2454]
for s, y in zip(body, body_y):
    T(1213, y, s, fontsize=45.8, family=SERIF, ha='left', va='baseline')
bullets = ['Spring bloom usually initiates in May.', '2014 bloom was ~ 2 weeks earlier than usual']
bullet_y = [2657, 2812]
for s, y in zip(bullets, bullet_y):
    T(1247, y - 38, '\u25cf', fontsize=56, family='DejaVu Sans')
    T(1321, y, s, fontsize=92, family=SERIF, ha='left', va='baseline')
T(1350, 2964, 'All', fontsize=92, family=SERIF, ha='left', va='baseline')

fig.savefig('out.png', dpi=100)
